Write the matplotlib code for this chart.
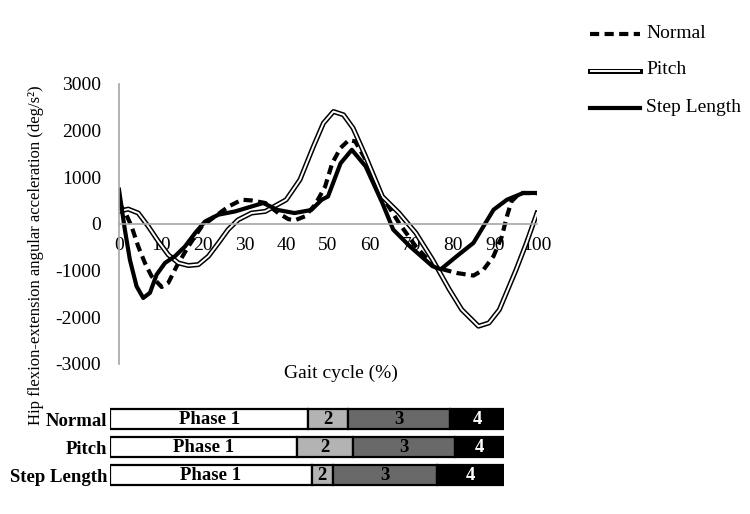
import matplotlib
matplotlib.use("Agg")
import matplotlib.pyplot as plt
from matplotlib.lines import Line2D

plt.rcParams['font.family'] = ['Liberation Serif', 'DejaVu Serif']
plt.rcParams['font.size'] = 14
plt.rcParams['axes.unicode_minus'] = False

# curves (gait cycle %, deg/s^2)
normal_x = [0, 1.5, 3, 4.6, 6.2, 7.8, 10.2, 11.8, 13.8, 16.6, 19.8, 23, 26.2, 29.4, 31.7, 35,
            38.1, 40.5, 42.1, 44.5, 46.9, 49.3, 51, 53, 55, 56.5, 59, 63, 67, 71, 75, 77,
            80.8, 84.8, 87.2, 89.6, 91.6, 92.8, 93.9, 95.9, 100]
normal_y = [450, 250, -50, -480, -835, -1120, -1350, -1260, -905, -480, -50, 165, 375, 520, 505, 450,
            235, 105, 80, 165, 410, 800, 1300, 1630, 1800, 1770, 1380, 590, 20, -480, -870, -960,
            -1050, -1105, -980, -690, -265, 165, 485, 665, 660]

pitch_x = [0, 2.2, 4.6, 7, 9.4, 11.8, 14.2, 16.6, 19, 21.4, 23.8, 26.1, 28.5, 31.7, 35, 40,
           43.3, 46.5, 48.9, 51.3, 53.7, 56, 59, 63, 67, 71, 75, 79, 82, 86, 88.5, 91,
           95, 97.5, 100]
pitch_y = [270, 320, 235, -50, -370, -660, -835, -890, -870, -690, -405, -120, 90, 235, 270, 520,
           950, 1660, 2160, 2410, 2340, 2055, 1450, 590, 235, -190, -760, -1400, -1835, -2190, -2120, -1835,
           -980, -400, 235]

step_x = [0, 1.4, 2.6, 4.2, 5.8, 7.4, 9, 11, 13.4, 15.8, 18.2, 20.6, 23.8, 27.8, 31.7, 34.5,
          38, 42, 46, 48.5, 50, 53, 55.7, 59, 63, 65.6, 69.6, 75, 77, 80.8, 84.8, 87.2,
          89.6, 92.8, 96.7, 100]
step_y = [735, -120, -765, -1335, -1585, -1475, -1085, -835, -690, -480, -195, 55, 200, 270, 375, 450,
          300, 235, 300, 520, 590, 1300, 1590, 1235, 450, -120, -480, -905, -970, -690, -405, -50,
          305, 520, 665, 665]

# phase bars (% of gait cycle where each phase ends)
bar_labels = ['Normal', 'Pitch', 'Step Length']
phase_ends = [[50.3, 60.5, 86.3, 100],
              [47.4, 61.8, 87.6, 100],
              [51.2, 56.5, 82.9, 100]]
phase_names = ['Phase 1', '2', '3', '4']
phase_colors = ['white', '#b3b3b3', '#696969', 'black']
phase_text_colors = ['black', 'black', 'black', 'white']

DASH = (0, (2.2, 1.3))

fig = plt.figure(figsize=(7.5, 5.14), dpi=100)
ax = fig.add_axes([119 / 750, 1 - 364 / 514, 418 / 750, 280 / 514])

ax.plot(normal_x, normal_y, color='black', lw=3, ls=DASH)
ax.plot(pitch_x, pitch_y, color='black', lw=3.6)
ax.plot(pitch_x, pitch_y, color='white', lw=1.4)
ax.plot(step_x, step_y, color='black', lw=3)

ax.set_xlim(0, 100)
ax.set_ylim(-3000, 3000)
ax.set_xticks(range(0, 101, 10))
ax.set_yticks(range(-3000, 3001, 1000))
ax.spines['bottom'].set_position(('data', 0))
for s in ['top', 'right']:
    ax.spines[s].set_visible(False)
for s in ['bottom', 'left']:
    ax.spines[s].set_color('#a6a6a6')
    ax.spines[s].set_linewidth(1.2)
ax.tick_params(axis='x', length=0, pad=9)
ax.tick_params(axis='y', length=0, pad=13)
ax.patch.set_alpha(0)

fig.text(341 / 750, 1 - 373 / 514, 'Gait cycle (%)', ha='center', va='center')
fig.text(36 / 750, 1 - 255 / 514, 'Hip flexion-extension angular acceleration (deg/s²)',
         rotation=90, ha='center', va='center', fontsize=12)

# legend, drawn by hand so the double line looks right
leg_y = [34, 71, 108]
leg_names = ['Normal', 'Pitch', 'Step Length']
for k, name in enumerate(leg_names):
    yy = 1 - leg_y[k] / 514
    xs = [590 / 750, 640 / 750]
    if name == 'Normal':
        fig.add_artist(Line2D(xs, [yy, yy], color='black', lw=3, ls=DASH))
    elif name == 'Pitch':
        fig.add_artist(Line2D(xs, [yy, yy], color='black', lw=3.6))
        fig.add_artist(Line2D([591 / 750, 639 / 750], [yy, yy], color='white', lw=1.4))
    else:
        fig.add_artist(Line2D(xs, [yy, yy], color='black', lw=3))
    fig.text(646 / 750, yy + 1 / 514, name, ha='left', va='center')

# phase bars
bx = fig.add_axes([110 / 750, 1 - 489 / 514, 394 / 750, 84 / 514])
for i, ends in enumerate(phase_ends):
    start = 0
    for j, end in enumerate(ends):
        bx.barh(i, end - start, left=start, height=0.72, color=phase_colors[j],
                edgecolor='black', linewidth=1.6)
        bx.text((start + end) / 2, i, phase_names[j], ha='center', va='center',
                fontweight='bold', color=phase_text_colors[j], fontsize=13.5)
        start = end
bx.set_xlim(0, 100)
bx.set_ylim(2.5, -0.5)
bx.set_yticks(range(len(bar_labels)))
bx.set_yticklabels(bar_labels, fontweight='bold', fontsize=13.5)
bx.set_xticks([])
bx.tick_params(axis='y', length=0, pad=2)
for s in bx.spines.values():
    s.set_visible(False)

fig.savefig('out.png', dpi=100)
